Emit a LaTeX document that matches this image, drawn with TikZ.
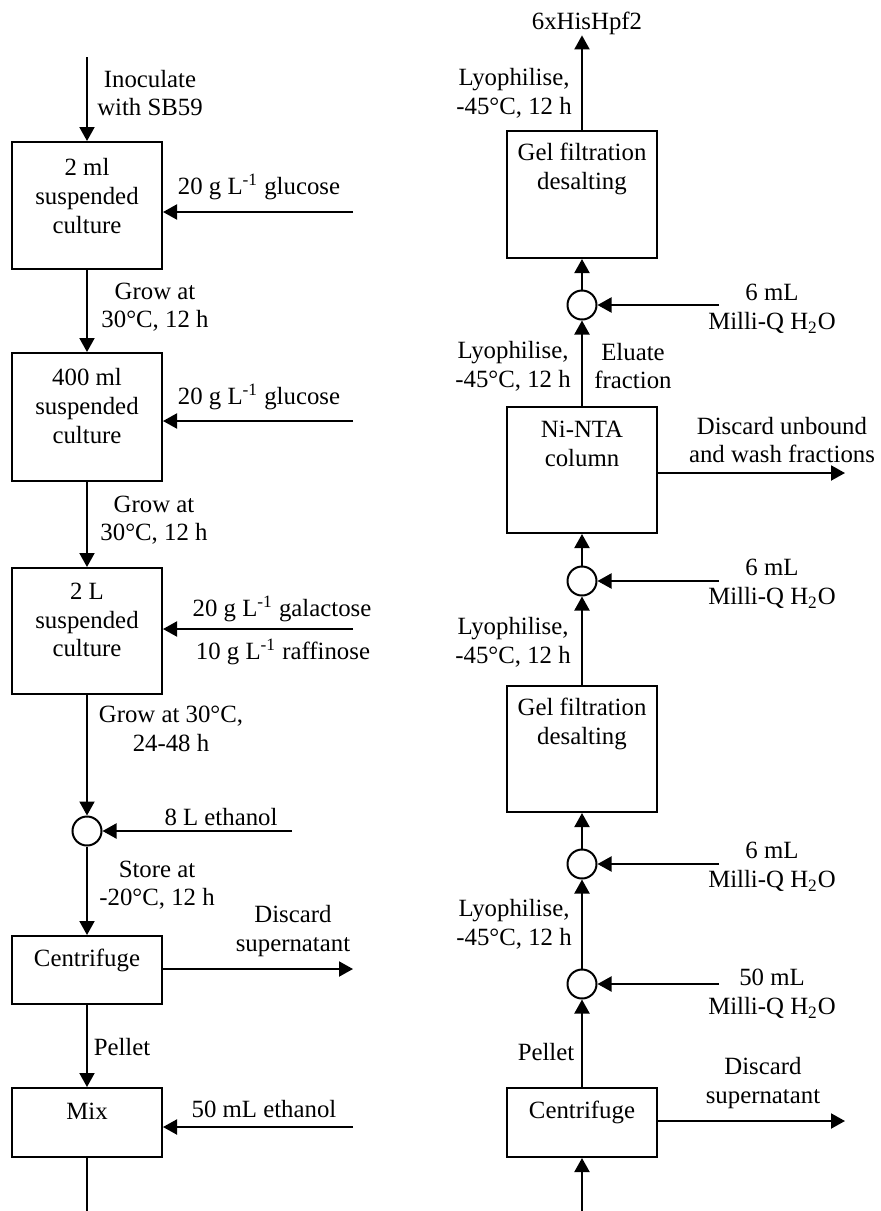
\documentclass[tikz,border=0pt]{standalone}
\usepackage{fontspec}
\setmainfont{Liberation Serif}
\usepackage{tikz}
\usetikzlibrary{arrows.meta, positioning}

\begin{document}
\begin{tikzpicture}[x=0.5pt, y=-0.5pt, line width=1pt,
    box/.style={draw, minimum width=75pt, inner sep=0pt},
    mixer/.style={draw, circle, minimum size=14.5pt, inner sep=0pt},
    lbl/.style={align=center, inner sep=0pt, font=\fontsize{12.4}{14.3}\selectfont},
    arr/.style={-{Triangle[length=7pt,width=7.5pt]}}]
    \useasboundingbox (0,0) rectangle (881,1211);

    % Left column: culture boxes
    \coordinate (start) at (87,57);
    \node[box, minimum height=63.5pt] (c1) at (87,205.5) {};
    \node[lbl] at (87,196) {2 ml\\suspended\\culture};
    \node[box, minimum height=64pt] (c2) at (87,417) {};
    \node[lbl] at (87,406) {400 ml\\suspended\\culture};
    \node[box, minimum height=63pt] (c3) at (87,631) {};
    \node[lbl] at (87,620) {2 L\\suspended\\culture};
    \node[mixer] (m1) at (87,831) {};
    \node[box, minimum height=34pt] (cf1) at (87,970) {};
    \node[lbl] at (87,960) {Centrifuge};
    \node[box, minimum height=34.5pt] (mix) at (87,1122.5) {};
    \node[lbl] at (87,1111) {Mix};
    \coordinate (end) at (87,1211);

    % Left column: main flow
    \draw[arr] (start) -- (c1);
    \draw[arr] (c1) -- (c2);
    \draw[arr] (c2) -- (c3);
    \draw[arr] (c3) -- (m1);
    \draw[arr] (m1) -- (cf1);
    \draw[arr] (cf1) -- (mix);
    \draw (mix) -- (end);

    % Left column: feeds and discards
    \coordinate (f1) at (353,212);
    \coordinate (f2) at (353,421);
    \coordinate (f3) at (353,629);
    \coordinate (f4) at (292,831);
    \coordinate (d1) at (353,969);
    \coordinate (f5) at (353,1127);
    \draw[arr] (f1) -- (f1 -| c1.east);
    \draw[arr] (f2) -- (f2 -| c2.east);
    \draw[arr] (f3) -- (f3 -| c3.east);
    \draw[arr] (f4) -- (m1);
    \draw[arr] (cf1.east |- d1) -- (d1);
    \draw[arr] (f5) -- (f5 -| mix.east);

    % Left column: labels
    \node[lbl] at (150,93) {Inoculate\\with SB59};
    \node[lbl] at (259,187) {20 g L\textsuperscript{-1} glucose};
    \node[lbl] at (155,307) {Grow at\\30°C, 12 h};
    \node[lbl] at (259,397) {20 g L\textsuperscript{-1} glucose};
    \node[lbl] at (154,520) {Grow at\\30°C, 12 h};
    \node[lbl] at (282,609) {20 g L\textsuperscript{-1} galactose};
    \node[lbl] at (283,652) {10 g L\textsuperscript{-1} raffinose};
    \node[lbl] at (171,729) {Grow at 30°C,\\24-48 h};
    \node[lbl] at (221,817) {8 L ethanol};
    \node[lbl] at (157,885) {Store at\\-20°C, 12 h};
    \node[lbl] at (293,931) {Discard\\supernatant};
    \node[lbl] at (122,1047) {Pellet};
    \node[lbl] at (264,1109) {50 mL ethanol};

    % Right column: purification boxes
    \node[lbl] (prod) at (587,23) {6xHisHpf2};
    \node[box, minimum height=63.5pt] (gf2) at (582,194.5) {};
    \node[lbl] at (582,169) {Gel filtration\\desalting};
    \node[mixer] (w3) at (582,305) {};
    \node[box, minimum height=63pt] (ni) at (582,470) {};
    \node[lbl] at (582,444) {Ni-NTA\\column};
    \node[mixer] (w2) at (582,581) {};
    \node[box, minimum height=63pt] (gf1) at (582,749) {};
    \node[lbl] at (582,724) {Gel filtration\\desalting};
    \node[mixer] (w1) at (582,864) {};
    \node[mixer] (w0) at (582,984) {};
    \node[box, minimum height=34.5pt] (cf2) at (582,1122.5) {};
    \node[lbl] at (582,1112) {Centrifuge};
    \coordinate (in) at (582,1211);

    % Right column: main flow
    \draw[arr] (in) -- (cf2);
    \draw[arr] (cf2) -- (w0);
    \draw[arr] (w0) -- (w1);
    \draw[arr] (w1) -- (gf1);
    \draw[arr] (gf1) -- (w2);
    \draw[arr] (w2) -- (ni);
    \draw[arr] (ni) -- (w3);
    \draw[arr] (w3) -- (gf2);
    \draw[arr] (gf2.north) -- (gf2.north |- prod.south);

    % Right column: water feeds and discards
    \coordinate (h3) at (719,305);
    \coordinate (h2) at (719,581);
    \coordinate (h1) at (719,864);
    \coordinate (h0) at (719,984);
    \coordinate (d2) at (845,473);
    \coordinate (d3) at (845,1121);
    \draw[arr] (h3) -- (w3);
    \draw[arr] (h2) -- (w2);
    \draw[arr] (h1) -- (w1);
    \draw[arr] (h0) -- (w0);
    \draw[arr] (ni.east |- d2) -- (d2);
    \draw[arr] (cf2.east |- d3) -- (d3);

    % Right column: labels
    \node[lbl] at (514,93) {Lyophilise,\\-45°C, 12 h};
    \node[lbl] at (772,309) {6 mL\\Milli-Q H\textsubscript{2}O};
    \node[lbl] at (513,366) {Lyophilise,\\-45°C, 12 h};
    \node[lbl] at (633,366) {Eluate\\fraction};
    \node[lbl] at (782,440) {Discard unbound\\and wash fractions};
    \node[lbl] at (772,584) {6 mL\\Milli-Q H\textsubscript{2}O};
    \node[lbl] at (513,642) {Lyophilise,\\-45°C, 12 h};
    \node[lbl] at (772,867) {6 mL\\Milli-Q H\textsubscript{2}O};
    \node[lbl] at (514,924) {Lyophilise,\\-45°C, 12 h};
    \node[lbl] at (772,994) {50 mL\\Milli-Q H\textsubscript{2}O};
    \node[lbl] at (546,1052) {Pellet};
    \node[lbl] at (763,1083) {Discard\\supernatant};
\end{tikzpicture}
\end{document}
